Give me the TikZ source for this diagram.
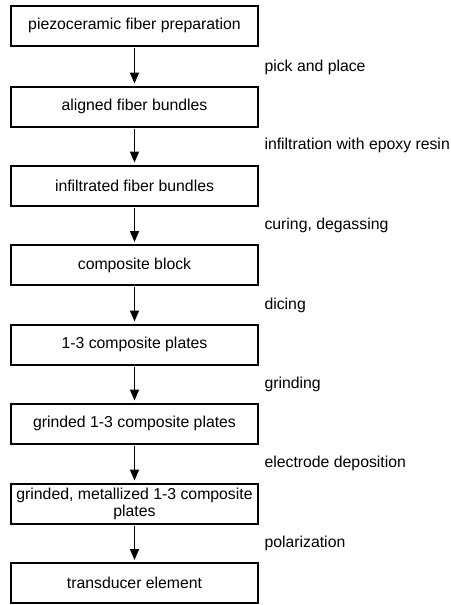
\documentclass[tikz,border=0pt]{standalone}
\usepackage{fontspec}
\setmainfont{Liberation Sans}
\usetikzlibrary{arrows.meta}
\newcommand{\stepSty}{\fontsize{15.8}{17}\selectfont}

\tikzset{
    stage/.style = {draw, line width=2pt, minimum width=247pt, minimum height=40pt,
                    inner sep=2pt, align=center, font=\stepSty},
    flow/.style  = {line width=1.8pt, -{Triangle[width=9pt,length=11pt]}, shorten >=2pt, shorten <=1pt},
    process/.style = {anchor=west, font=\stepSty}
}

\begin{document}
\begin{tikzpicture}[x=1pt, y=1pt]

        % frame
        \useasboundingbox (0,0) rectangle (450,-605);

        % stages
        \node[stage] (fiber)    at (134.5, -25.5)  {piezoceramic fiber preparation};
        \node[stage] (aligned)  at (134.5, -106.5) {aligned fiber bundles};
        \node[stage] (infil)    at (134.5, -185.5) {infiltrated fiber bundles};
        \node[stage] (block)    at (134.5, -265)   {composite block};
        \node[stage] (plates)   at (134.5, -344.5) {1-3 composite plates};
        \node[stage] (grinded)  at (134.5, -423.5) {grinded 1-3 composite plates};
        \node[stage] (metal)    at (134.5, -503.5) {grinded, metallized 1-3 composite\\plates};
        \node[stage] (element)  at (134.5, -583)   {transducer element};

        % arrows
        \draw[flow] (fiber)   -- (aligned);
        \draw[flow] (aligned) -- (infil);
        \draw[flow] (infil)   -- (block);
        \draw[flow] (block)   -- (plates);
        \draw[flow] (plates)  -- (grinded);
        \draw[flow] (grinded) -- (metal);
        \draw[flow] (metal)   -- (element);

        % process steps
        \node[process] (pick)   at (261, -67)  {pick and place};
        \node[process] (epoxy)  at (261, -145) {infiltration with epoxy resin};
        \node[process] (curing) at (261, -225) {curing, degassing};
        \node[process] (dicing) at (261, -305) {dicing};
        \node[process] (grind)  at (261, -384) {grinding};
        \node[process] (electr) at (261, -463) {electrode deposition};
        \node[process] (polar)  at (261, -543) {polarization};

\end{tikzpicture}
\end{document}
